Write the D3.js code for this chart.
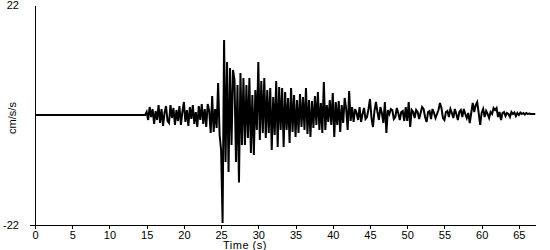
<!DOCTYPE html>
<html>
<head>
<meta charset="utf-8">
<script src="https://cdn.jsdelivr.net/npm/d3@7"></script>
<style>
  html, body { margin: 0; padding: 0; background: #fff; }
  svg { display: block; }
  text { font-family: "Liberation Sans", Arial, sans-serif; font-size: 11px; fill: #000; }
</style>
</head>
<body>
<svg id="chart" width="550" height="250"></svg>
<script>
// ---- data ----
const xTicks = [0, 5, 10, 15, 20, 25, 30, 35, 40, 45, 50, 55, 60, 65];
const yTicks = [-22, 22];
const xLabel = "Time (s)";
const yLabel = "cm/s/s";
const xMax = 67.3;
const quietStart = 0;      // record starts (s)
const onset = 14.8;        // first sample of the sampled series (s)
const dt = 0.2;            // sample interval (s)
// acceleration (cm/s/s), one row per second starting at 14.8 s
const accel = [
  0,
  0.6, -1.0, 1.6, -0.4, 1.2,        // 15
  -1.8, 0.8, -1.0, 2.0, -1.6,       // 16
  1.2, -2.2, 0.4, 1.8, -1.2,        // 17
  -1.6, 2.0, -0.6, 1.4, -2.0,       // 18
  1.0, -1.2, 1.8, -2.0, 0.6,        // 19
  2.6, -1.4, 1.0, -2.2, 1.6,        // 20
  -0.8, 2.0, -1.8, 0.6, -2.4,       // 21
  1.8, -1.0, 2.2, -1.8, 1.2,        // 22
  -2.4, 2.2, 0.8, -3.6, 3.8,        // 23
  -3.4, 1.2, -2.6, 6.4, -4.0,       // 24
  -7.0, -21.6, 15.0, -9.4, 10.6,    // 25
  -11.4, 9.4, -6.0, 9.0, 7.0,       // 26
  -9.4, 6.0, -13.5, 8.4, -6.0,      // 27
  7.4, -6.0, 6.0, -4.6, 7.4,        // 28
  -7.6, 4.0, -8.0, 5.0, -3.0,       // 29
  10.6, -5.0, 6.8, -3.6, 7.4,       // 30
  -4.6, 5.0, -3.6, 5.4, -7.0,       // 31
  3.6, -4.0, 6.8, -6.4, 5.6,        // 32
  -3.0, 5.4, -6.4, 4.6, -3.0,       // 33
  3.4, -5.6, 5.4, -3.4, 4.0,        // 34
  -4.4, 3.0, -3.6, 4.2, -2.4,       // 35
  3.6, -3.0, 5.4, -3.8, 3.0,        // 36
  -4.4, 2.8, -2.6, 3.8, -2.0,       // 37
  4.6, -3.0, 2.4, -3.6, 6.6,        // 38
  -3.0, 2.0, -1.4, 3.0, -2.0,       // 39
  4.4, -4.4, 2.6, -2.0, 2.8,        // 40
  -3.4, 2.0, -1.6, 3.4, 1.2,        // 41
  -3.0, 4.8, -1.2, 1.6, -1.4,       // 42
  1.2, 0.4, -1.0, 1.6, -1.4,        // 43
  0.2, 1.4, -0.8, -0.4, 1.2,        // 44
  3.2, -0.6, -2.4, 0.8, 2.6,        // 45
  0.6, -1.0, 1.6, 0.4, -1.6,        // 46
  2.6, -3.6, 1.0, 0.2, 1.2,         // 47
  1.0, -0.8, -0.4, 1.4, 0.4,        // 48
  -1.0, 0.6, 0.8, -1.2, 1.6,        // 49
  -1.2, 2.6, -2.4, 1.0, 0.6,        // 50
  -0.6, 1.0, 0.6, -0.8, 0.4,        // 51
  1.6, 1.2, -0.4, -1.4, 0.6,        // 52
  0.8, -0.8, 1.2, 0.4, -0.6,        // 53
  0.2, 1.0, 2.4, 1.4, -0.6,         // 54
  -1.0, 0.6, 0.8, -0.4, 1.2,        // 55
  0.4, -0.6, 1.2, 0.2, -1.0,        // 56
  0.6, 1.0, -0.4, 1.2, 0.2,         // 57
  -0.6, 0.4, -1.6, 0.4, 2.4,        // 58
  0.6, 2.0, 2.6, 0.4, -2.0,         // 59
  0.4, 1.2, -0.4, 0.8, 0.2,         // 60
  -0.6, 0.6, 0.2, 1.4, 1.0,         // 61
  1.4, -0.4, 0.6, -1.0, 0.4,        // 62
  0.6, -0.2, 0.4, 0.2, -0.4,        // 63
  0.6, 0.2, 0.5, -0.2, 0.4,         // 64
  0.0, 0.5, 0.2, 0.4, 0.1,          // 65
  0.4, 0.2, 0.3, 0.2, 0.2,          // 66
  0.2, 0.2                          // 67
];

// ---- chart ----
const svg = d3.select("#chart");
const x = d3.scaleLinear().domain([0, xMax]).range([35, 536]);
const y = d3.scaleLinear().domain([-22, 22]).range([225, 5]);

const points = [[quietStart, 0]].concat(accel.map((v, i) => [onset + i * dt, v]));

svg.append("path")
  .datum(points)
  .attr("fill", "none")
  .attr("stroke", "#000")
  .attr("stroke-width", 2)
  .attr("stroke-linejoin", "miter")
  .attr("d", d3.line().x(d => x(d[0])).y(d => y(d[1])));

// x axis
const gx = svg.append("g")
  .attr("transform", `translate(0,${y(-22)})`)
  .call(d3.axisBottom(x).tickValues(xTicks).tickSize(4).tickSizeOuter(0).tickPadding(2).tickFormat(d => String(d)));
gx.select(".domain").remove();
gx.selectAll("line").attr("stroke", "#000").attr("shape-rendering", "crispEdges");
gx.selectAll("text").attr("font-size", null).attr("font-family", null);
svg.append("line")
  .attr("x1", x(0) - 5).attr("x2", x(xMax))
  .attr("y1", y(-22)).attr("y2", y(-22))
  .attr("stroke", "#000").attr("shape-rendering", "crispEdges");

// y axis
const gy = svg.append("g")
  .attr("transform", `translate(${x(0)},0)`)
  .call(d3.axisLeft(y).tickValues(yTicks).tickSize(0).tickPadding(16).tickFormat(d => String(d)));
gy.select(".domain").attr("stroke", "#000").attr("shape-rendering", "crispEdges");
gy.selectAll("text").attr("font-size", null).attr("font-family", null);

svg.append("text")
  .attr("x", 245).attr("y", 249)
  .attr("text-anchor", "middle")
  .attr("letter-spacing", "0.5")
  .text(xLabel);

svg.append("text")
  .attr("transform", `translate(16,${118}) rotate(-90)`)
  .attr("text-anchor", "middle")
  .text(yLabel);
</script>
</body>
</html>
